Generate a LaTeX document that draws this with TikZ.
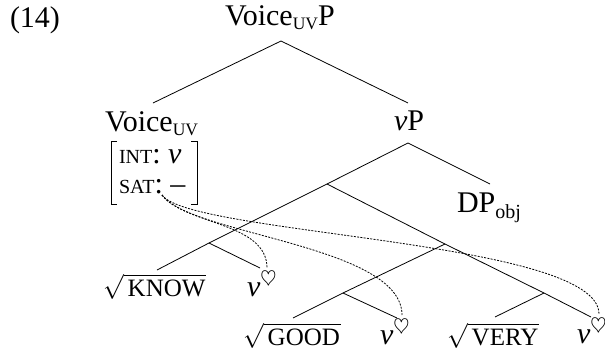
\documentclass[tikz,border=0pt]{standalone}
\usepackage{fontspec}
\setmainfont{Liberation Serif}
\newcommand\sctext[1]{{\fontsize{20}{20}\selectfont #1}}
\newcommand\leafsc[1]{{\fontsize{25}{25}\selectfont #1}}
\newcommand\subcaps[1]{\raisebox{-4pt}{\fontsize{17.5}{17.5}\selectfont #1}}
\newcommand\sublow[1]{\raisebox{-6pt}{\fontsize{20}{20}\selectfont #1}}
\newcommand\vheart{\textit{v}\raisebox{11pt}{\fontsize{20.5}{20.5}\selectfont$\heartsuit$}}
\newcommand\rootw[1]{$\sqrt{\mbox{\hspace{4pt}\leafsc{#1}\hspace{1pt}}}$}
\begin{document}
\begin{tikzpicture}[x=1pt,y=-1pt,
  every node/.style={inner sep=0pt,outer sep=0pt,font=\fontsize{30}{36}\selectfont},
  lbl/.style={anchor=base west},
  branch/.style={line width=0.8pt},
  brack/.style={line width=0.8pt},
  agree/.style={line width=0.8pt,dash pattern=on 2pt off 1.3pt}]
\useasboundingbox (0,0) rectangle (605,354);
% labels
\node[lbl] (ex) at (10,27) {(14)};
\node[lbl] (root) at (225,25) {Voice\subcaps{UV}P};
\node[lbl] (voice) at (105,131) {Voice\subcaps{UV}};
\node[lbl] (vp) at (394,130) {\textit{v}P};
\node[lbl] (int) at (119,163) {\sctext{INT}: \textit{v}};
\node[lbl] (sat) at (119,193) {\sctext{SAT}: --};
\node[lbl] (dp) at (457,212) {DP\sublow{obj}};
\node[lbl] (know) at (103,296) {\rootw{KNOW}};
\node[lbl] (v1) at (247,296) {\vheart};
\node[lbl] (good) at (243,345) {\rootw{GOOD}};
\node[lbl] (v2) at (380,344) {\vheart};
\node[lbl] (very) at (447,345) {\rootw{VERY}};
\node[lbl] (v3) at (577,343) {\vheart};
% AVM brackets
\draw[brack] (117,141) -| (111,204) -- (117,204);
\draw[brack] (191,141) -| (197,204) -- (191,204);
% tree points
\coordinate (rootb) at (281,41);
\coordinate (voicet) at (153,103);
\coordinate (vpt) at (408,103);
\coordinate (vpb) at (408,143);
\coordinate (x1) at (327,184);
\coordinate (dpt) at (490,184);
\coordinate (x2) at (209,243);
\coordinate (x3) at (445,244);
\coordinate (knowt) at (157,270);
\coordinate (v1t) at (260,268);
\coordinate (x4) at (343,293);
\coordinate (x5) at (544,293);
\coordinate (goodt) at (293,318);
\coordinate (v2t) at (397,318);
\coordinate (veryt) at (495,317);
\coordinate (v3t) at (591,317);
\draw[branch] (voicet) -- (rootb) -- (vpt);
\draw[branch] (x1) -- (vpb) -- (dpt);
\draw[branch] (x2) -- (x1) -- (x3);
\draw[branch] (knowt) -- (x2) -- (v1t);
\draw[branch] (x4) -- (x3) -- (x5);
\draw[branch] (goodt) -- (x4) -- (v2t);
\draw[branch] (veryt) -- (x5) -- (v3t);
% agreement curves
\coordinate (satc) at (162,195);
\coordinate (h1) at (267,268);
\coordinate (h2) at (402,315);
\coordinate (h3) at (599,314);
\draw[agree] (satc) .. controls (185,225) and (267,222) .. (h1);
\draw[agree] (satc) .. controls (190,235) and (402,245) .. (h2);
\draw[agree] (satc) .. controls (190,235) and (599,240) .. (h3);
\end{tikzpicture}
\end{document}
